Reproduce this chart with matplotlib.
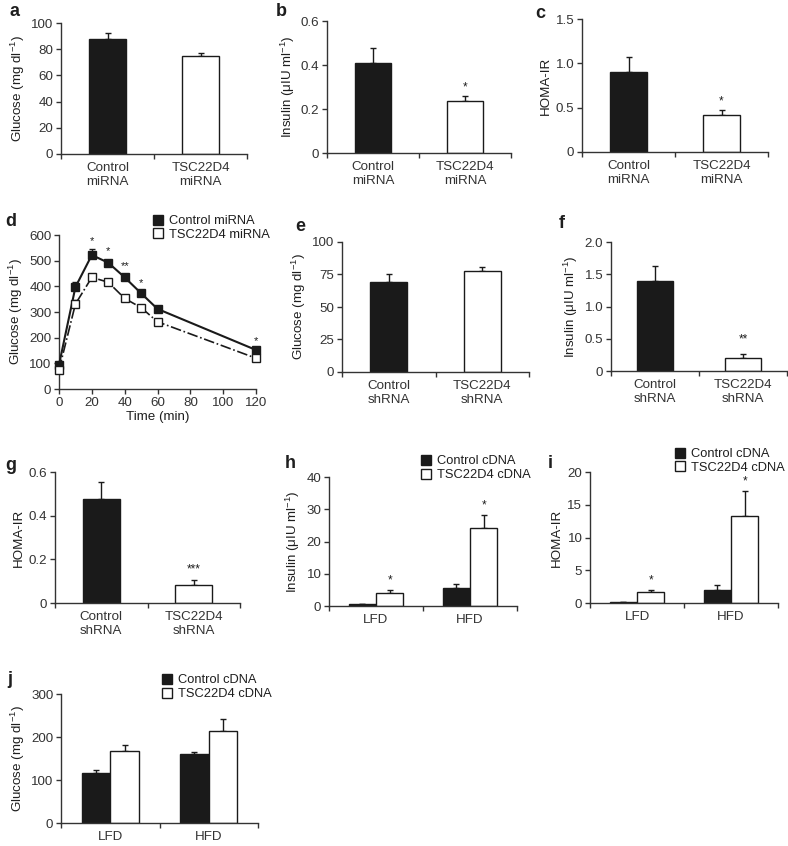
import matplotlib
matplotlib.use('Agg')
import matplotlib.pyplot as plt
from matplotlib.lines import Line2D

plt.rcParams['font.family'] = ['Liberation Sans', 'DejaVu Sans']
plt.rcParams['mathtext.fontset'] = 'custom'
plt.rcParams['mathtext.rm'] = 'Liberation Sans'
plt.rcParams['mathtext.it'] = 'Liberation Sans'
plt.rcParams['text.color'] = '#1e1e1e'
plt.rcParams['axes.labelcolor'] = '#1e1e1e'
plt.rcParams['xtick.color'] = '#333333'
plt.rcParams['ytick.color'] = '#333333'

W, H = 788, 846
FS = 9.6

# ---- data ----
mirna_labels = ['Control\nmiRNA', 'TSC22D4\nmiRNA']
shrna_labels = ['Control\nshRNA', 'TSC22D4\nshRNA']
diet_labels = ['LFD', 'HFD']

a_vals = [87.5, 75.0]
a_err = [5.0, 2.0]
b_vals = [0.41, 0.235]
b_err = [0.065, 0.025]
b_stars = ['', '*']
c_vals = [0.90, 0.42]
c_err = [0.17, 0.05]
c_stars = ['', '*']

time_min = [0, 10, 20, 30, 40, 50, 60, 120]
d_ctrl = [94, 397, 522, 492, 435, 373, 312, 152]
d_ctrl_err = [10, 20, 23, 12, 14, 10, 8, 5]
d_tsc = [74, 331, 435, 416, 353, 317, 262, 120]
d_tsc_err = [10, 15, 8, 10, 8, 10, 8, 5]
d_stars = ['', '', '*', '*', '**', '*', '', '*']

e_vals = [69.5, 78.0]
e_err = [5.5, 2.5]
f_vals = [1.40, 0.20]
f_err = [0.23, 0.07]
f_stars = ['', '**']
g_vals = [0.475, 0.083]
g_err = [0.078, 0.024]
g_stars = ['', '***']

h_ctrl = [0.6, 5.5]
h_ctrl_err = [0.1, 1.3]
h_tsc = [4.1, 24.3]
h_tsc_err = [0.9, 4.0]
h_stars = ['*', '*']

i_ctrl = [0.15, 2.0]
i_ctrl_err = [0.05, 0.7]
i_tsc = [1.7, 13.3]
i_tsc_err = [0.3, 3.8]
i_stars = ['*', '*']

j_ctrl = [117, 161]
j_ctrl_err = [6, 5]
j_tsc = [167, 213]
j_tsc_err = [15, 30]

fig = plt.figure(figsize=(W / 100, H / 100), dpi=100)


def px_axes(x0, y0, x1, y1):
    return fig.add_axes([x0 / W, 1 - y1 / H, (x1 - x0) / W, (y1 - y0) / H])


def style(ax, ymax, yticks, ylabel, ticklabels=None):
    for s in ['top', 'right']:
        ax.spines[s].set_visible(False)
    for s in ['left', 'bottom']:
        ax.spines[s].set_linewidth(1.0)
        ax.spines[s].set_color('#333333')
    ax.set_ylim(0, ymax)
    ax.set_yticks(yticks[0])
    ax.set_yticklabels(yticks[1], fontsize=FS)
    ax.tick_params(axis='y', direction='out', length=3.5, width=1, pad=2)
    ax.set_ylabel(ylabel, fontsize=FS, labelpad=3)
    if ticklabels is not None:
        ax.set_xlim(0, 2)
        ax.set_xticks([0, 1, 2])
        ax.set_xticklabels([])
        ax.set_xticks([0.5, 1.5], minor=True)
        ax.set_xticklabels(ticklabels, minor=True, fontsize=FS)
        ax.tick_params(axis='x', which='major', direction='out', length=3.5, width=1)
        ax.tick_params(axis='x', which='minor', length=0, pad=6)


def letter(x, y, s):
    fig.text(x / W, 1 - y / H, s, fontsize=13, fontweight='bold', ha='center', va='center')


def single_bars(ax, vals, errs, stars=None, step=0.0):
    xs = [0.5, 1.5]
    ax.bar(xs, vals, width=0.4, color=['#1a1a1a', 'white'], edgecolor='#1a1a1a', linewidth=1.0, zorder=2)
    ax.errorbar(xs, vals, yerr=[[0, 0], errs], fmt='none', ecolor='#1a1a1a', elinewidth=1.0,
                capsize=2.5, capthick=1.0, zorder=1)
    if stars:
        for x, v, e, s in zip(xs, vals, errs, stars):
            if s:
                ax.text(x, v + e + step, s, ha='center', va='bottom', fontsize=8.5)


def pair_bars(ax, ctrl, ctrl_err, tsc, tsc_err, stars=None, step=0.0):
    xc = [0.5 - 0.145, 1.5 - 0.145]
    xt = [0.5 + 0.145, 1.5 + 0.145]
    ax.bar(xc, ctrl, width=0.29, color='#1a1a1a', edgecolor='#1a1a1a', linewidth=1.0, zorder=2)
    ax.bar(xt, tsc, width=0.29, color='white', edgecolor='#1a1a1a', linewidth=1.0, zorder=2)
    ax.errorbar(xc, ctrl, yerr=[[0, 0], ctrl_err], fmt='none', ecolor='#1a1a1a', elinewidth=1.0,
                capsize=2.5, capthick=1.0, zorder=1)
    ax.errorbar(xt, tsc, yerr=[[0, 0], tsc_err], fmt='none', ecolor='#1a1a1a', elinewidth=1.0,
                capsize=2.5, capthick=1.0, zorder=1)
    if stars:
        for x, v, e, s in zip(xt, tsc, tsc_err, stars):
            if s:
                ax.text(x, v + e + step, s, ha='center', va='bottom', fontsize=8.5)


def legend_at(ax, x, y, labels):
    handles = [Line2D([], [], marker='s', ls='none', markersize=7.5, markerfacecolor='#1a1a1a',
                      markeredgecolor='#1a1a1a'),
               Line2D([], [], marker='s', ls='none', markersize=7.5, markerfacecolor='white',
                      markeredgecolor='#1a1a1a')]
    ax.legend(handles, labels, loc='upper left', bbox_to_anchor=(x / W, 1 - y / H),
              bbox_transform=fig.transFigure, frameon=False, fontsize=9.3, borderaxespad=0,
              borderpad=0, handletextpad=0.3, labelspacing=0.15, handlelength=1.0)


glu = 'Glucose (mg dl$^{-1}$)'
ins = 'Insulin (μIU ml$^{-1}$)'

# a
ax = px_axes(61, 23, 247, 154)
single_bars(ax, a_vals, a_err)
style(ax, 100, ([0, 20, 40, 60, 80, 100], ['0', '20', '40', '60', '80', '100']), glu, mirna_labels)
letter(14, 12, 'a')

# b
ax = px_axes(327, 21, 511, 153)
single_bars(ax, b_vals, b_err, b_stars, 0.01)
style(ax, 0.6, ([0, 0.2, 0.4, 0.6], ['0', '0.2', '0.4', '0.6']), ins, mirna_labels)
letter(281, 12, 'b')

# c
ax = px_axes(582, 19, 768, 152)
single_bars(ax, c_vals, c_err, c_stars, 0.03)
style(ax, 1.5, ([0, 0.5, 1.0, 1.5], ['0', '0.5', '1.0', '1.5']), 'HOMA-IR', mirna_labels)
letter(540, 13, 'c')

# d
ax = px_axes(59, 235, 256, 389)
ax.errorbar(time_min, d_ctrl, yerr=[[0] * 8, d_ctrl_err], fmt='none', ecolor='#1a1a1a',
            elinewidth=1.0, capsize=2, zorder=2, clip_on=False)
ax.errorbar(time_min, d_tsc, yerr=[[0] * 8, d_tsc_err], fmt='none', ecolor='#1a1a1a',
            elinewidth=1.0, capsize=2, zorder=2, clip_on=False)
ax.plot(time_min, d_ctrl, color='#1a1a1a', lw=1.5, marker='s', markersize=5.5,
        markerfacecolor='#1a1a1a', zorder=3, clip_on=False)
ax.plot(time_min, d_tsc, color='#1a1a1a', lw=1.2, ls='-.', marker='s', markersize=5.5,
        markerfacecolor='white', zorder=3, clip_on=False)
for t, v, e, s in zip(time_min, d_ctrl, d_ctrl_err, d_stars):
    if s:
        ax.text(t, v + e + 12, s, ha='center', va='bottom', fontsize=8)
style(ax, 600, ([0, 100, 200, 300, 400, 500, 600], ['0', '100', '200', '300', '400', '500', '600']), glu)
ax.set_xlim(0, 120)
ax.set_xticks([0, 20, 40, 60, 80, 100, 120])
ax.set_xticklabels(['0', '20', '40', '60', '80', '100', '120'], fontsize=FS)
ax.tick_params(axis='x', direction='out', length=3.5, width=1, pad=2)
ax.set_xlabel('Time (min)', fontsize=FS, labelpad=2)
legend_at(ax, 152, 215, ['Control miRNA', 'TSC22D4 miRNA'])
letter(11, 221, 'd')

# e
ax = px_axes(342, 242, 529, 372)
single_bars(ax, e_vals, e_err)
style(ax, 100, ([0, 25, 50, 75, 100], ['0', '25', '50', '75', '100']), glu, shrna_labels)
letter(300, 226, 'e')

# f
ax = px_axes(611, 242, 787, 371)
single_bars(ax, f_vals, f_err, f_stars, 0.12)
style(ax, 2.0, ([0, 0.5, 1.0, 1.5, 2.0], ['0', '0.5', '1.0', '1.5', '2.0']), ins, shrna_labels)
letter(562, 223, 'f')

# g
ax = px_axes(55, 472, 240, 603)
single_bars(ax, g_vals, g_err, g_stars, 0.02)
style(ax, 0.6, ([0, 0.2, 0.4, 0.6], ['0', '0.2', '0.4', '0.6']), 'HOMA-IR', shrna_labels)
letter(11, 465, 'g')

# h
ax = px_axes(329, 477, 517, 606)
pair_bars(ax, h_ctrl, h_ctrl_err, h_tsc, h_tsc_err, h_stars, 1.0)
style(ax, 40, ([0, 10, 20, 30, 40], ['0', '10', '20', '30', '40']), ins, diet_labels)
legend_at(ax, 420, 455, ['Control cDNA', 'TSC22D4 cDNA'])
letter(290, 463, 'h')

# i
ax = px_axes(590, 472, 778, 603)
pair_bars(ax, i_ctrl, i_ctrl_err, i_tsc, i_tsc_err, i_stars, 0.5)
style(ax, 20, ([0, 5, 10, 15, 20], ['0', '5', '10', '15', '20']), 'HOMA-IR', diet_labels)
legend_at(ax, 674, 448, ['Control cDNA', 'TSC22D4 cDNA'])
letter(550, 463, 'i')

# j
ax = px_axes(61, 694, 258, 823)
pair_bars(ax, j_ctrl, j_ctrl_err, j_tsc, j_tsc_err)
style(ax, 300, ([0, 100, 200, 300], ['0', '100', '200', '300']), glu, diet_labels)
legend_at(ax, 161, 674, ['Control cDNA', 'TSC22D4 cDNA'])
letter(10, 679, 'j')

fig.savefig('out.png', dpi=100)
